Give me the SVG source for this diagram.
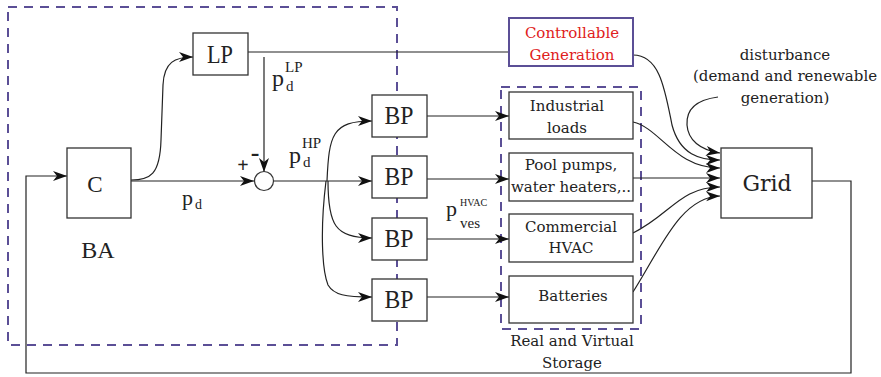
<svg xmlns="http://www.w3.org/2000/svg" width="881" height="377" viewBox="0 0 881 377">
<defs>
<marker id="ah" markerUnits="userSpaceOnUse" markerWidth="16" markerHeight="12" refX="14" refY="5" orient="auto">
<path d="M0,0 L14,5 L0,10 L4,5 z" fill="#111"/>
</marker>
<style>
.box{fill:#fff;stroke:#333;stroke-width:1.3}
.dash{fill:none;stroke:#5b4f96;stroke-width:2;stroke-dasharray:9 7}
.ln{fill:none;stroke:#222;stroke-width:1.2}
.ar{fill:none;stroke:#222;stroke-width:1.2;marker-end:url(#ah)}
.big{font-family:"Liberation Serif",serif;fill:#222;text-anchor:middle}
.lab{font-family:"DejaVu Serif",serif;font-size:15px;fill:#222;text-anchor:middle}
.math{font-family:"Liberation Serif",serif;fill:#222}
</style>
</defs>

<rect class="dash" x="8" y="7" width="389" height="338"/>
<rect class="dash" x="501" y="87" width="140" height="242"/>

<g id="connectors">
<path class="ar" d="M131,181 L254,181"/>
<path class="ar" d="M131,180 C150,180 160,175 161,140 L163,85 C164,62 175,57 193,57"/>
<path class="ln" d="M248,52 L509,52"/>
<path class="ar" d="M264,57 L264,172"/>
<path class="ar" d="M273.5,181 L372,181"/>
<path class="ar" d="M327,181 C329,135 332,121 372,121"/>
<path class="ar" d="M328,181 C328,225 335,238 372,238"/>
<path class="ar" d="M326,181 C320,230 322,270 328,285 C334,295 345,297 372,297"/>
<path class="ar" d="M427,116 L509,116"/>
<path class="ar" d="M427,179 L509,179"/>
<path class="ar" d="M427,239 L509,239"/>
<path class="ar" d="M427,297 L509,297"/>
<path class="ar" d="M633,55 C660,55 665,90 672,125 C680,155 700,160 720,160"/>
<path class="ar" d="M718,97 C695,100 686,110 687,125 C688,140 700,150 720,153"/>
<path class="ar" d="M633,122 C660,128 675,168 720,168"/>
<path class="ar" d="M633,178 L720,178"/>
<path class="ar" d="M633,233 C670,215 680,187 720,187"/>
<path class="ar" d="M633,292 C660,250 680,197 720,196"/>
<path class="ar" d="M812,181 L851,181 L851,373 L26,373 L26,176 L67,176"/>
</g>

<g id="C"><rect class="box" x="67" y="148" width="64" height="70"/><text class="big" x="95" y="192" font-size="23">C</text></g>
<g id="LP"><rect class="box" x="193" y="33" width="55" height="42"/><text class="big" x="220" y="63" font-size="25" textLength="26" lengthAdjust="spacingAndGlyphs">LP</text></g>
<g id="sum"><circle cx="264" cy="181" r="9.5" fill="#fff" stroke="#333" stroke-width="1.2"/></g>
<g id="BP1"><rect class="box" x="372" y="95" width="55" height="42"/><text class="big" x="399" y="124" font-size="25" textLength="29" lengthAdjust="spacingAndGlyphs">BP</text></g>
<g id="BP2"><rect class="box" x="372" y="156" width="55" height="42"/><text class="big" x="399" y="185" font-size="25" textLength="29" lengthAdjust="spacingAndGlyphs">BP</text></g>
<g id="BP3"><rect class="box" x="372" y="218" width="55" height="42"/><text class="big" x="399" y="247" font-size="25" textLength="29" lengthAdjust="spacingAndGlyphs">BP</text></g>
<g id="BP4"><rect class="box" x="372" y="279" width="55" height="42"/><text class="big" x="399" y="308" font-size="25" textLength="29" lengthAdjust="spacingAndGlyphs">BP</text></g>

<g id="CG"><rect x="509" y="18" width="124" height="48" fill="#fff" stroke="#5b4f96" stroke-width="2"/>
<text class="lab" x="572" y="38" style="fill:#e02020">Controllable</text>
<text class="lab" x="572" y="60" style="fill:#e02020">Generation</text></g>

<g id="industrial"><rect class="box" x="509" y="92" width="124" height="47"/><text class="lab" x="567" y="111">Industrial</text><text class="lab" x="567" y="133">loads</text></g>
<g id="pool"><rect class="box" x="509" y="153" width="124" height="48"/><text class="lab" x="571" y="170">Pool pumps,</text><text class="lab" x="571" y="192">water heaters,..</text></g>
<g id="hvac"><rect class="box" x="509" y="214" width="124" height="48"/><text class="lab" x="571" y="232">Commercial</text><text class="lab" x="571" y="253">HVAC</text></g>
<g id="batteries"><rect class="box" x="509" y="276" width="124" height="47"/><text class="lab" x="573" y="301">Batteries</text></g>

<g id="grid"><rect class="box" x="721" y="148" width="91" height="70"/><text class="lab" x="767" y="191" style="font-size:22px">Grid</text></g>

<g id="labels">
<text class="big" x="98" y="258" font-size="24">BA</text>
<text class="math" x="243" y="172" font-size="20" font-weight="bold" text-anchor="middle">+</text>
<text class="math" x="255" y="161" font-size="26" font-weight="bold" text-anchor="middle">-</text>
<text class="math" x="272" y="86" font-size="24">p</text>
<text class="math" x="286" y="91" font-size="15">d</text>
<text class="math" x="285" y="72" font-size="15">LP</text>
<text class="math" x="289" y="163" font-size="24">p</text>
<text class="math" x="303" y="167" font-size="15">d</text>
<text class="math" x="302" y="148" font-size="15">HP</text>
<text class="math" x="182" y="205" font-size="22">p</text>
<text class="math" x="195" y="209" font-size="14">d</text>
<text class="math" x="446" y="216" font-size="22">p</text>
<text class="math" x="460" y="206" font-size="10">HVAC</text>
<text class="math" x="460" y="228" font-size="15">ves</text>
<text class="lab" x="785" y="60">disturbance</text>
<text class="lab" x="785" y="81">(demand and renewable</text>
<text class="lab" x="785" y="103">generation)</text>
<text class="lab" x="572" y="346">Real and Virtual</text>
<text class="lab" x="572" y="368">Storage</text>
</g>
</svg>
